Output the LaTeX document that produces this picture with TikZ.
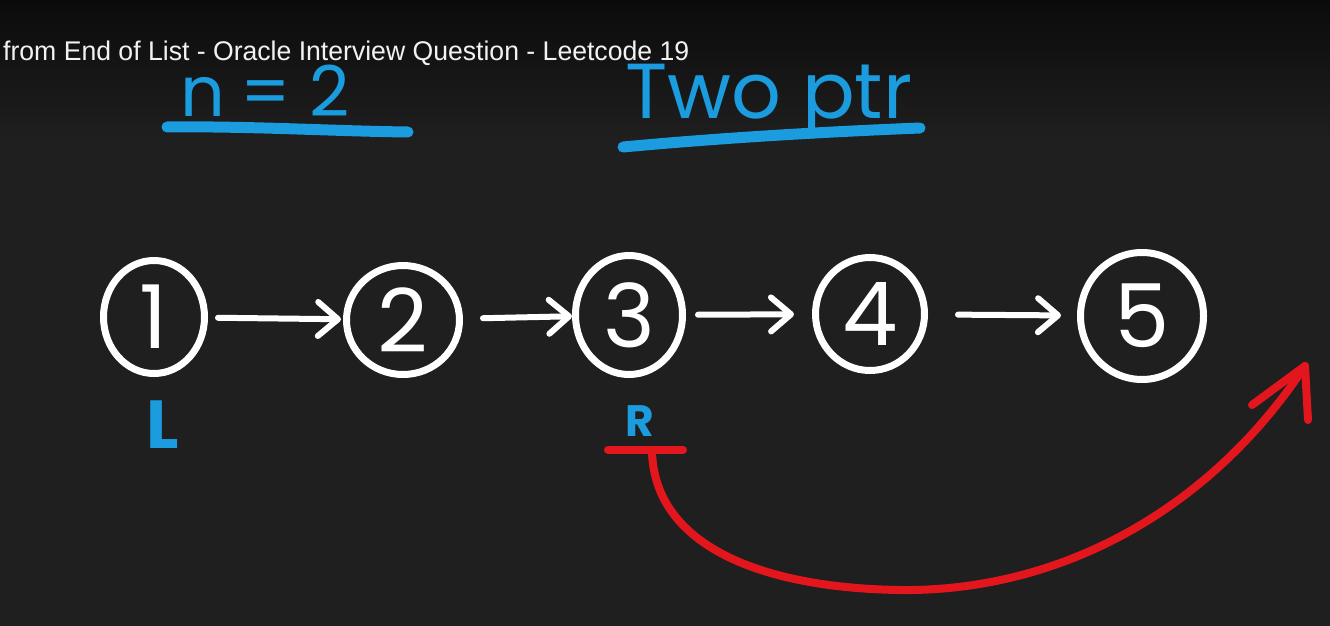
\documentclass[tikz,border=0pt]{standalone}
\usepackage{graphicx}
\usepackage{fontspec}
\setmainfont{Liberation Sans}
\newfontfamily\hand{Poppins}
\usetikzlibrary{shapes.geometric,arrows.meta}
\definecolor{bg}{HTML}{1F1F1F}
\definecolor{topbg}{HTML}{0B0B0B}
\definecolor{penblue}{HTML}{1A9CDF}
\definecolor{penred}{HTML}{E3161D}
\definecolor{titlewhite}{HTML}{F2F2F2}
\begin{document}
\begin{tikzpicture}[x=1pt,y=-1pt,
  listnode/.style={ellipse, draw=white, line width=7pt, inner sep=0pt, text=white,
    font=\hand\fontsize{88}{88}\selectfont},
  link/.style={white, line width=6pt, line cap=round, line join=round,
    -{Straight Barb[length=20pt,width=34pt,round]}},
  bluepen/.style={penblue, line width=11pt, line cap=round},
  redpen/.style={penred, line width=8pt, line cap=round, line join=round},
  bluetext/.style={text=penblue, inner sep=0pt},
]
\useasboundingbox (0,0) rectangle (1330,626);
\fill[bg] (0,0) rectangle (1330,626);
\shade[top color=topbg, bottom color=bg] (0,0) rectangle (1330,140);

% handwritten blue labels
\node[bluetext, anchor=base west, font=\hand\fontsize{70}{70}\selectfont] (nlabel) at (180,116) {n\kern16pt=\kern18pt2};
\draw[bluepen] (167,127) .. controls (250,126) and (330,131) .. (408,132);
\node[bluetext, anchor=base west, font=\hand\fontsize{78}{78}\selectfont] (tplabel) at (625,118) {Two ptr};
\draw[bluepen] (623,147) .. controls (720,138) and (820,132) .. (920,128);

% title overlay
\node[anchor=base west, inner sep=0pt, text=titlewhite] (title) at (3,60)
  {\resizebox{686pt}{\height}{\fontsize{27}{30}\selectfont from End of List - Oracle Interview Question - Leetcode 19}};

% list nodes
\node[listnode, minimum width=101pt, minimum height=113pt] (n1) at (154,317) {1};
\node[listnode, minimum width=113pt, minimum height=109pt] (n2) at (403,320) {2};
\node[listnode, minimum width=107pt, minimum height=119pt] (n3) at (629,315) {3};
\node[listnode, minimum width=109pt, minimum height=113pt] (n4) at (870,314) {4};
\node[listnode, minimum width=123pt, minimum height=127pt] (n5) at (1142,316) {5};

\draw[link, shorten <=10pt, shorten >=2pt] (n1) -- (n2);
\draw[link, shorten <=20pt, shorten >=0pt] (n2) -- (n3);
\draw[link, shorten <=12pt, shorten >=18pt] (n3) -- (n4);
\draw[link, shorten <=30pt, shorten >=16pt] (n4) -- (n5);

% pointers
\node[bluetext, anchor=base, font=\hand\bfseries\fontsize{68}{68}\selectfont] (L) at (163,448) {L};
\node[bluetext, anchor=base, font=\hand\bfseries\fontsize{44}{44}\selectfont] (R) at (640,436) {R};

% red move arrow
\coordinate (rbarL) at (608,450);
\coordinate (rbarR) at (683,450);
\coordinate (rstart) at (652,452);
\coordinate (tip) at (1305,366);
\coordinate (barbL) at (1252,405);
\coordinate (barbR) at (1308,420);
\draw[redpen] (rbarL) -- (rbarR);
\draw[redpen] (rstart) .. controls (655,545) and (760,588) .. (900,590)
  .. controls (1060,592) and (1210,510) .. (tip);
\draw[redpen] (barbL) -- (tip) -- (barbR);
\end{tikzpicture}
\end{document}
